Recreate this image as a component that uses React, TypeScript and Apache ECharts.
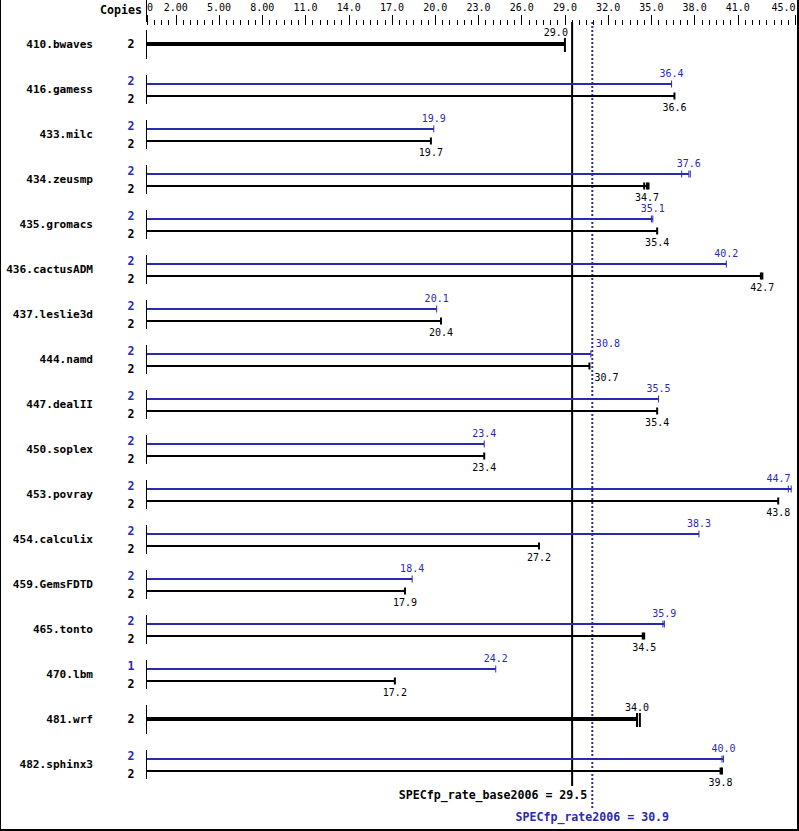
import React, { useEffect, useRef } from "react";
import * as echarts from "echarts";

const benchmarks = [
  "410.bwaves", "416.gamess", "433.milc", "434.zeusmp", "435.gromacs", "436.cactusADM",
  "437.leslie3d", "444.namd", "447.dealII", "450.soplex", "453.povray", "454.calculix",
  "459.GemsFDTD", "465.tonto", "470.lbm", "481.wrf", "482.sphinx3",
];
const baseCopies = [2, 2, 2, 2, 2, 2, 2, 2, 2, 2, 2, 2, 2, 2, 2, 2, 2];
const peakCopies = [null, 2, 2, 2, 2, 2, 2, 2, 2, 2, 2, 2, 2, 2, 1, null, 2];
const baseValues = [29.0, 36.6, 19.7, 34.7, 35.4, 42.7, 20.4, 30.7, 35.4, 23.4, 43.8, 27.2, 17.9, 34.5, 17.2, 34.0, 39.8];
const peakValues = [null, 36.4, 19.9, 37.6, 35.1, 40.2, 20.1, 30.8, 35.5, 23.4, 44.7, 38.3, 18.4, 35.9, 24.2, null, 40.0];
const baseRuns = [
  [29.0], [36.6], [19.7], [34.5, 34.7, 34.8], [35.4], [42.6, 42.7], [20.4], [30.7], [35.4], [23.4],
  [43.8], [27.2], [17.9], [34.4, 34.5], [17.2], [34.0, 34.2], [39.8, 39.9],
];
const peakRuns = [
  [], [36.4], [19.9], [37.1, 37.6, 37.7], [35.0, 35.1], [40.2], [20.1], [30.8], [35.5], [23.4],
  [44.5, 44.7], [38.3], [18.4], [35.8, 35.9], [24.2], [], [39.9, 40.0],
];
const baseScore = 29.5;
const peakScore = 30.9;
const axisMax = 45;
const tickValues = [0, 2, 5, 8, 11, 14, 17, 20, 23, 26, 29, 32, 35, 38, 41, 45];
const tickLabels = ["0", "2.00", "5.00", "8.00", "11.0", "14.0", "17.0", "20.0", "23.0", "26.0", "29.0", "32.0", "35.0", "38.0", "41.0", "45.0"];

const BLUE = "#2a2ab0";
const MONO = "'DejaVu Sans Mono', 'Liberation Mono', monospace";
const NUM_FONT = "10px " + MONO;
const BOLD_FONT = "bold 11.6px " + MONO;
const NAME_FONT = "bold 11.1px " + MONO;
const CHAR_W = 6.02;

function labelPlacement(x1: number, text: string, refXs: number[], maxRight: number) {
  const w = text.length * CHAR_W;
  const cands = [x1 - w / 2, x1 + 3 - w, x1 + 5];
  let chosen = cands[0];
  for (const l of cands) {
    const ok = refXs.every((rx) => rx < l - 1 || rx > l + w + 1);
    if (ok) {
      chosen = l;
      break;
    }
  }
  if (chosen + w > maxRight) chosen = maxRight - w;
  return chosen;
}

export default function App() {
  const ref = useRef<HTMLDivElement>(null);
  useEffect(() => {
    if (!ref.current) return;
    const chart = echarts.init(ref.current, undefined, { renderer: "svg" });
    const nG = benchmarks.length;

    const refXs = (api: any) => [api.coord([baseScore, 0])[0], api.coord([peakScore, 0])[0]];
    const maxRight = (api: any) => api.coord([axisMax, 0])[0] - 5;

    const baseRender = (params: any, api: any) => {
      const i = params.dataIndex;
      const v = api.value(0);
      const g = api.value(1);
      const single = peakValues[i] == null;
      const p0 = api.coord([0, g]);
      const p1 = api.coord([v, g]);
      const yc = p0[1];
      const x0 = p0[0];
      const x1 = p1[0];
      const children: any[] = [];
      children.push({ type: "rect", shape: { x: x0 - 1, y: yc - 14, width: 1, height: 29 }, style: { fill: "#000" } });
      children.push({
        type: "text",
        style: { text: benchmarks[i], x: x0 - 54, y: yc, align: "right", verticalAlign: "middle", fill: "#000", font: NAME_FONT },
      });
      const text = baseValues[i].toFixed(1);
      if (single) {
        children.push({ type: "rect", shape: { x: x0, y: yc - 2, width: x1 - x0, height: 4 }, style: { fill: "#000" } });
        baseRuns[i].forEach((r) => {
          const xr = api.coord([r, g])[0];
          children.push({ type: "rect", shape: { x: xr - 1, y: yc - 6, width: 2, height: 14 }, style: { fill: "#000" } });
        });
        const l = labelPlacement(x1, text, refXs(api), maxRight(api));
        children.push({ type: "text", style: { text, x: l, y: yc - 12, align: "left", verticalAlign: "middle", fill: "#000", font: NUM_FONT } });
        children.push({
          type: "text",
          style: { text: String(baseCopies[i]), x: x0 - 16, y: yc, align: "center", verticalAlign: "middle", fill: "#000", font: BOLD_FONT },
        });
      } else {
        const y = yc + 7;
        children.push({ type: "rect", shape: { x: x0, y: y - 1, width: x1 - x0, height: 2 }, style: { fill: "#000" } });
        baseRuns[i].forEach((r) => {
          const xr = api.coord([r, g])[0];
          children.push({ type: "rect", shape: { x: xr - 1, y: y - 3.5, width: 2, height: 7 }, style: { fill: "#000" } });
        });
        const l = labelPlacement(x1, text, refXs(api), maxRight(api));
        children.push({ type: "text", style: { text, x: l, y: y + 11, align: "left", verticalAlign: "middle", fill: "#000", font: NUM_FONT } });
        children.push({
          type: "text",
          style: { text: String(baseCopies[i]), x: x0 - 16, y: yc + 10, align: "center", verticalAlign: "middle", fill: "#000", font: BOLD_FONT },
        });
      }
      return { type: "group", children };
    };

    const peakRender = (params: any, api: any) => {
      const i = params.dataIndex;
      const v = api.value(0);
      const g = api.value(1);
      if (v == null || isNaN(v)) return null;
      const p0 = api.coord([0, g]);
      const p1 = api.coord([v, g]);
      const yc = p0[1];
      const x0 = p0[0];
      const x1 = p1[0];
      const y = yc - 5;
      const children: any[] = [];
      children.push({ type: "rect", shape: { x: x0, y: y - 1, width: x1 - x0, height: 2 }, style: { fill: BLUE } });
      peakRuns[i].forEach((r) => {
        const xr = api.coord([r, g])[0];
        children.push({ type: "rect", shape: { x: xr - 0.5, y: y - 3.5, width: 1, height: 7 }, style: { fill: BLUE } });
      });
      const text = (peakValues[i] as number).toFixed(1);
      const l = labelPlacement(x1, text, refXs(api), maxRight(api));
      children.push({ type: "text", style: { text, x: l, y: y - 11, align: "left", verticalAlign: "middle", fill: BLUE, font: NUM_FONT } });
      children.push({
        type: "text",
        style: { text: String(peakCopies[i]), x: x0 - 16, y: yc - 8, align: "center", verticalAlign: "middle", fill: BLUE, font: BOLD_FONT },
      });
      return { type: "group", children };
    };

    const refRender = (params: any, api: any) => {
      const v = api.value(0);
      const isBase = params.dataIndex === 0;
      const top = api.coord([v, 0])[1] - 22;
      const last = api.coord([v, nG - 1]);
      const x = last[0];
      const children: any[] = [];
      if (isBase) {
        children.push({ type: "line", shape: { x1: x, y1: top, x2: x, y2: last[1] + 22 }, style: { stroke: "#000", lineWidth: 2 } });
      } else {
        children.push({
          type: "line",
          shape: { x1: x, y1: top, x2: x, y2: last[1] + 44 },
          style: { stroke: BLUE, lineWidth: 2, lineDash: [2, 2] },
        });
        const bx = api.coord([peakScore, 0])[0];
        children.push({
          type: "text",
          style: { text: "SPECfp_rate_base2006 = " + baseScore.toFixed(1), x: bx - 5, y: last[1] + 31, align: "right", verticalAlign: "middle", fill: "#000", font: BOLD_FONT },
        });
        children.push({
          type: "text",
          style: { text: "SPECfp_rate2006 = " + peakScore.toFixed(1), x: bx, y: last[1] + 53, align: "center", verticalAlign: "middle", fill: BLUE, font: BOLD_FONT },
        });
      }
      return { type: "group", children };
    };

    chart.setOption({
      animation: false,
      backgroundColor: "#fff",
      grid: { left: 147, right: 3.5, top: 25, bottom: 1, outerBoundsMode: "none", containLabel: false },
      xAxis: [
        {
          type: "value",
          position: "top",
          min: 0,
          max: axisMax,
          interval: 0.5,
          axisLine: { show: false, onZero: false },
          axisTick: { show: true, length: 5, lineStyle: { color: "#000", width: 1 } },
          axisLabel: { show: false },
          splitLine: { show: false },
        },
        {
          type: "value",
          position: "top",
          min: 0,
          max: axisMax,
          axisLine: { show: false, onZero: false },
          axisTick: { show: true, length: 10, customValues: tickValues, lineStyle: { color: "#000", width: 1 } },
          axisLabel: {
            show: true,
            customValues: tickValues,
            margin: 13,
            color: "#000",
            fontFamily: MONO,
            fontSize: 10,
            alignMinLabel: "left",
            alignMaxLabel: "right",
            formatter: (val: number) => {
              const k = tickValues.indexOf(val);
              return k >= 0 ? tickLabels[k] : "";
            },
          },
          splitLine: { show: false },
        },
      ],
      yAxis: {
        type: "value",
        inverse: true,
        min: -19 / 45,
        max: 786 / 45,
        show: false,
        axisLine: { onZero: false },
        splitLine: { show: false },
      },
      graphic: [
        { type: "text", style: { text: "Copies", x: 142, y: 10, align: "right", verticalAlign: "middle", fill: "#000", font: BOLD_FONT } },
        { type: "rect", shape: { x: 146, y: 0, width: 1, height: 22 }, style: { fill: "#000" } },
        { type: "rect", shape: { x: 0, y: 0, width: 1, height: 831 }, style: { fill: "#000" } },
        { type: "rect", shape: { x: 797, y: 0, width: 2, height: 831 }, style: { fill: "#000" } },
        { type: "rect", shape: { x: 0, y: 829, width: 799, height: 2 }, style: { fill: "#000" } },
      ],
      series: [
        {
          type: "custom",
          name: "refs",
          xAxisIndex: 0,
          yAxisIndex: 0,
          clip: false,
          silent: true,
          data: [[baseScore, 0], [peakScore, 0]],
          renderItem: refRender,
          z: 1,
        },
        {
          type: "custom",
          name: "base",
          xAxisIndex: 0,
          yAxisIndex: 0,
          clip: false,
          silent: true,
          data: baseValues.map((v, i) => [v, i]),
          renderItem: baseRender,
          z: 2,
        },
        {
          type: "custom",
          name: "peak",
          xAxisIndex: 0,
          yAxisIndex: 0,
          clip: false,
          silent: true,
          data: peakValues.map((v, i) => [v == null ? NaN : v, i]),
          renderItem: peakRender,
          z: 3,
        },
      ],
    });
    return () => chart.dispose();
  }, []);
  return <div ref={ref} style={{ position: "absolute", left: 0, top: 0, width: 799, height: 831 }} />;
}
